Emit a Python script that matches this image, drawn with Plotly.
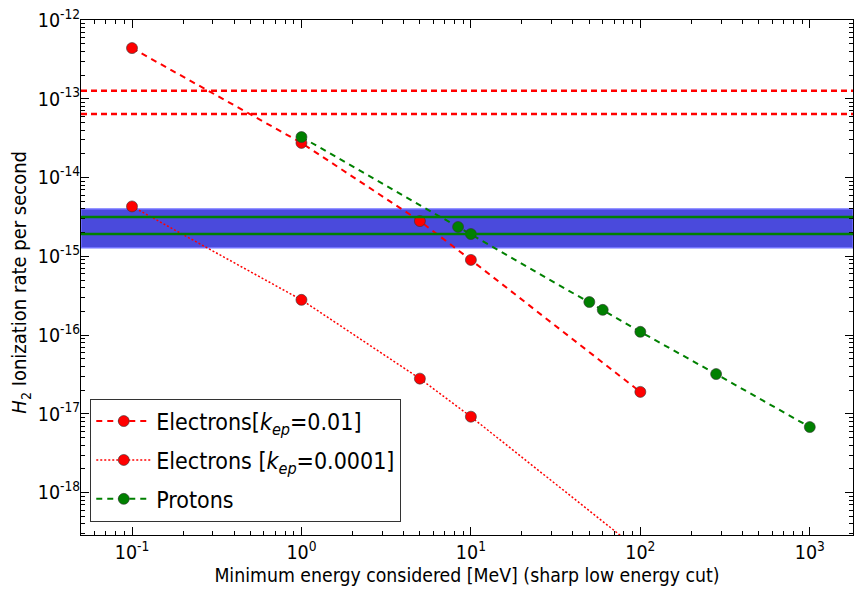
import plotly.graph_objects as go

# Data
e1_x = [0.1, 1, 5, 10, 100]
e1_y = [4.4e-13, 2.75e-14, 2.8e-15, 9.0e-16, 1.9e-17]
e2_x = [0.1, 1, 5, 10, 100]
e2_y = [4.3e-15, 2.8e-16, 2.8e-17, 9.2e-18, 1.8e-19]
p_x = [1, 8.4, 10, 50, 60, 100, 280, 1000]
p_y = [3.27e-14, 2.36e-15, 1.92e-15, 2.63e-16, 2.09e-16, 1.1e-16, 3.2e-17, 6.8e-18]
red_hlines = [1.26e-13, 6.4e-14]
green_hlines = [3.16e-15, 1.92e-15]
band = [1.28e-15, 4.0e-15]
xticks = [0.1, 1, 10, 100, 1000]
xticktext = ["10<sup>-1</sup>", "10<sup>0</sup>", "10<sup>1</sup>", "10<sup>2</sup>", "10<sup>3</sup>"]
yticks = [1e-18, 1e-17, 1e-16, 1e-15, 1e-14, 1e-13, 1e-12]
yticktext = ["10<sup>-18</sup>", "10<sup>-17</sup>", "10<sup>-16</sup>", "10<sup>-15</sup>",
             "10<sup>-14</sup>", "10<sup>-13</sup>", "10<sup>-12</sup>"]
x_minor = [m * 10 ** d for d in range(-2, 4) for m in range(2, 10)]
y_minor = [m * 10.0 ** d for d in range(-19, -12) for m in range(2, 10)]

FONT = "DejaVu Sans Condensed, DejaVu Sans"
fig = go.Figure()

# shaded band
fig.add_shape(type="rect", xref="paper", yref="y", x0=0, x1=1, y0=band[0], y1=band[1],
              fillcolor="rgb(74,74,220)", line=dict(color="rgb(115,115,255)", width=1.5),
              layer="below")
for yv in green_hlines:
    fig.add_shape(type="line", xref="paper", yref="y", x0=0, x1=1, y0=yv, y1=yv,
                  line=dict(color="green", width=2.5))
for yv in red_hlines:
    fig.add_shape(type="line", xref="paper", yref="y", x0=0, x1=1, y0=yv, y1=yv,
                  line=dict(color="red", width=2.5, dash="6px,4px"))

mk = lambda c: dict(size=11, color=c, line=dict(color="#333333", width=0.6))

fig.add_trace(go.Scatter(x=e1_x, y=e1_y, mode="lines+markers", legendgroup="a",
                         name="Electrons[<i>k</i><sub><i>ep</i></sub>=0.01]",
                         line=dict(color="red", width=2, dash="6px,5px"), marker=mk("red")))
fig.add_trace(go.Scatter(x=e2_x, y=e2_y, mode="lines+markers", legendgroup="b",
                         name="Electrons [<i>k</i><sub><i>ep</i></sub>=0.0001]",
                         line=dict(color="red", width=1.5, dash="2px,2px"), marker=mk("red")))
fig.add_trace(go.Scatter(x=p_x, y=p_y, mode="lines+markers", name="Protons", legendgroup="c",
                         line=dict(color="green", width=2, dash="6px,5px"), marker=mk("green")))

axis_common = dict(type="log", showgrid=False, zeroline=False, showline=True, linecolor="black",
                   linewidth=1, mirror="ticks", ticks="inside", ticklen=8, tickcolor="black",
                   tickfont=dict(family=FONT, size=19.5, color="black"))

fig.update_xaxes(**axis_common, range=[-1.301, 3.255], tickvals=xticks, ticktext=xticktext,
                 minor=dict(ticks="inside", ticklen=4, tickcolor="black", showgrid=False,
                            tickvals=x_minor),
                 title=dict(text="Minimum energy considered [MeV] (sharp low energy cut)",
                            font=dict(family=FONT, size=19.3, color="black"), standoff=4))
fig.update_yaxes(**axis_common, range=[-18.538, -12], tickvals=yticks, ticktext=yticktext,
                 ticklabelstandoff=-4,
                 minor=dict(ticks="inside", ticklen=4, tickcolor="black", showgrid=False,
                            tickvals=y_minor))

fig.add_annotation(text="<i>H</i><sub>2</sub> Ionization rate per second",
                   xref="paper", yref="paper", x=(20 - 81) / 772, y=0.49,
                   xanchor="center", yanchor="middle", textangle=-90, showarrow=False,
                   font=dict(family=FONT, size=20, color="black"))

fig.update_layout(width=855, height=589, margin=dict(l=81, r=2, t=20, b=54),
                  plot_bgcolor="white", paper_bgcolor="white",
                  legend=dict(x=0.012, y=0.026, xanchor="left", yanchor="bottom",
                              bgcolor="white", bordercolor="#333333", borderwidth=1,
                              font=dict(family=FONT, size=23, color="black"),
                              itemwidth=55, tracegroupgap=6),
                  showlegend=True)

fig.write_html("out.html")
